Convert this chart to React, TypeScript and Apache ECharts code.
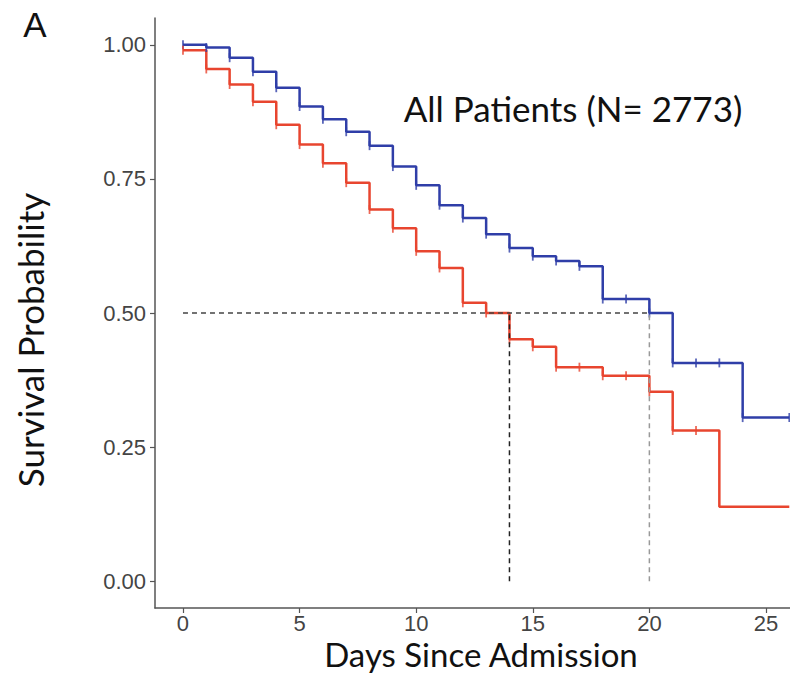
import React, { useEffect, useRef } from "react";
import * as echarts from "echarts";

// ---- data ----
const blueTimes = [0, 1, 2, 3, 4, 5, 6, 7, 8, 9, 10, 11, 12, 13, 14, 15, 16, 17, 18, 20, 21, 24];
const blueSurv = [1.0, 0.995, 0.976, 0.95, 0.92, 0.885, 0.861, 0.838, 0.812, 0.773, 0.738, 0.701, 0.677, 0.647, 0.621, 0.606, 0.597, 0.587, 0.526, 0.5, 0.407, 0.305];
const blueCensor = [0, 1, 2, 3, 4, 5, 6, 7, 8, 9, 10, 11, 12, 13, 14, 15, 16, 17, 18, 19, 20, 21, 22, 23, 24, 26];

const redTimes = [0, 1, 2, 3, 4, 5, 6, 7, 8, 9, 10, 11, 12, 13, 14, 15, 16, 18, 20, 21, 23];
const redSurv = [0.99, 0.955, 0.926, 0.894, 0.851, 0.814, 0.779, 0.743, 0.693, 0.658, 0.615, 0.584, 0.519, 0.5, 0.451, 0.437, 0.399, 0.383, 0.353, 0.281, 0.139];
const redCensor = [0, 1, 2, 3, 4, 5, 6, 7, 8, 9, 10, 11, 12, 13, 14, 15, 16, 17, 18, 19, 20, 21, 22];

const medianTimes = [14, 20];
const medianLevel = 0.5;
const xEnd = 26;

const xTicks = [0, 5, 10, 15, 20, 25];
const yTicks = [0, 0.25, 0.5, 0.75, 1.0];

const titleText = "All Patients (N= 2773)";
const xTitle = "Days Since Admission";
const yTitle = "Survival Probability";
const panelLabel = "A";

const BLUE = "#2f3ea8";
const RED = "#e8452f";

function stepData(times: number[], surv: number[]) {
  const d = times.map((t, i) => [t, surv[i]]);
  d.push([xEnd, surv[surv.length - 1]]);
  return d;
}
function survAt(times: number[], surv: number[], t: number) {
  let v = surv[0];
  for (let i = 0; i < times.length; i++) if (times[i] <= t) v = surv[i];
  return v;
}
function censorData(times: number[], surv: number[], cens: number[]) {
  return cens.map((t) => [t, survAt(times, surv, t)]);
}

export default function App() {
  const ref = useRef<HTMLDivElement>(null);
  useEffect(() => {
    if (!ref.current) return;
    const chart = echarts.init(ref.current, null, { renderer: "svg" });
    const tickFont = { fontFamily: "Liberation Sans, Arial, sans-serif", fontSize: 22, lineHeight: 22, color: "#444444" };
    const axisCol = "#555555";
    const titleFont = "35px Lato, 'Open Sans', sans-serif";
    chart.setOption({
      animation: false,
      backgroundColor: "#ffffff",
      grid: { left: 155, right: 0, top: 18, bottom: 66, containLabel: false, outerBoundsMode: "none" },
      xAxis: {
        type: "value",
        min: -1.2,
        max: 26.03,
        axisLine: { show: true, onZero: false, lineStyle: { color: axisCol, width: 1.5 } },
        axisTick: { show: true, length: 5, customValues: xTicks, lineStyle: { color: axisCol, width: 1.2 } },
        axisLabel: { ...tickFont, margin: 4, customValues: xTicks, formatter: (v: number) => String(v) },
        splitLine: { show: false },
      },
      yAxis: {
        type: "value",
        min: -0.05,
        max: 1.05,
        axisLine: { show: true, onZero: false, lineStyle: { color: axisCol, width: 1.5 } },
        axisTick: { show: true, length: 5, customValues: yTicks, lineStyle: { color: axisCol, width: 1.2 } },
        axisLabel: { ...tickFont, margin: 9, customValues: yTicks, formatter: (v: number) => v.toFixed(2) },
        splitLine: { show: false },
      },
      series: [
        {
          type: "line",
          step: "end",
          data: stepData(blueTimes, blueSurv),
          symbol: "none",
          lineStyle: { color: BLUE, width: 2.5 },
          z: 2,
        },
        {
          type: "line",
          step: "end",
          data: stepData(redTimes, redSurv),
          symbol: "none",
          lineStyle: { color: RED, width: 2.5 },
          z: 2,
        },
        {
          type: "scatter",
          data: censorData(blueTimes, blueSurv, blueCensor),
          symbol: "rect",
          symbolSize: [1.8, 9],
          itemStyle: { color: BLUE },
          z: 3,
        },
        {
          type: "scatter",
          data: censorData(redTimes, redSurv, redCensor),
          symbol: "rect",
          symbolSize: [1.8, 9],
          itemStyle: { color: RED },
          z: 3,
        },
        {
          type: "line",
          data: [[0, medianLevel], [Math.max(...medianTimes), medianLevel]],
          symbol: "none",
          lineStyle: { color: "#444444", width: 1.5, type: [5, 4] },
          z: 4,
        },
        {
          type: "line",
          data: [[medianTimes[0], 0], [medianTimes[0], medianLevel]],
          symbol: "none",
          lineStyle: { color: "#222222", width: 1.5, type: [5, 4] },
          z: 4,
        },
        {
          type: "line",
          data: [[medianTimes[1], 0], [medianTimes[1], medianLevel]],
          symbol: "none",
          lineStyle: { color: "#999999", width: 1.5, type: [5, 4] },
          z: 4,
        },
      ],
      graphic: [
        {
          type: "text",
          x: 573,
          y: 108,
          style: { text: titleText, font: titleFont, fill: "#111111", align: "center", verticalAlign: "middle" },
        },
        {
          type: "text",
          x: 481,
          y: 654,
          style: { text: xTitle, font: "33px Lato, 'Open Sans', sans-serif", lineHeight: 30, fill: "#111111", align: "center", verticalAlign: "middle" },
        },
        {
          type: "text",
          x: 30,
          y: 340,
          rotation: Math.PI / 2,
          style: { text: yTitle, font: titleFont, fill: "#111111", align: "center", verticalAlign: "middle" },
        },
        {
          type: "text",
          x: 35,
          y: 24,
          style: { text: panelLabel, font: "35px 'Liberation Sans', Arial, sans-serif", fill: "#111111", align: "center", verticalAlign: "middle" },
        },
      ],
    });
    return () => chart.dispose();
  }, []);
  return <div ref={ref} style={{ position: "fixed", left: 0, top: 0, width: 790, height: 674 }} />;
}
